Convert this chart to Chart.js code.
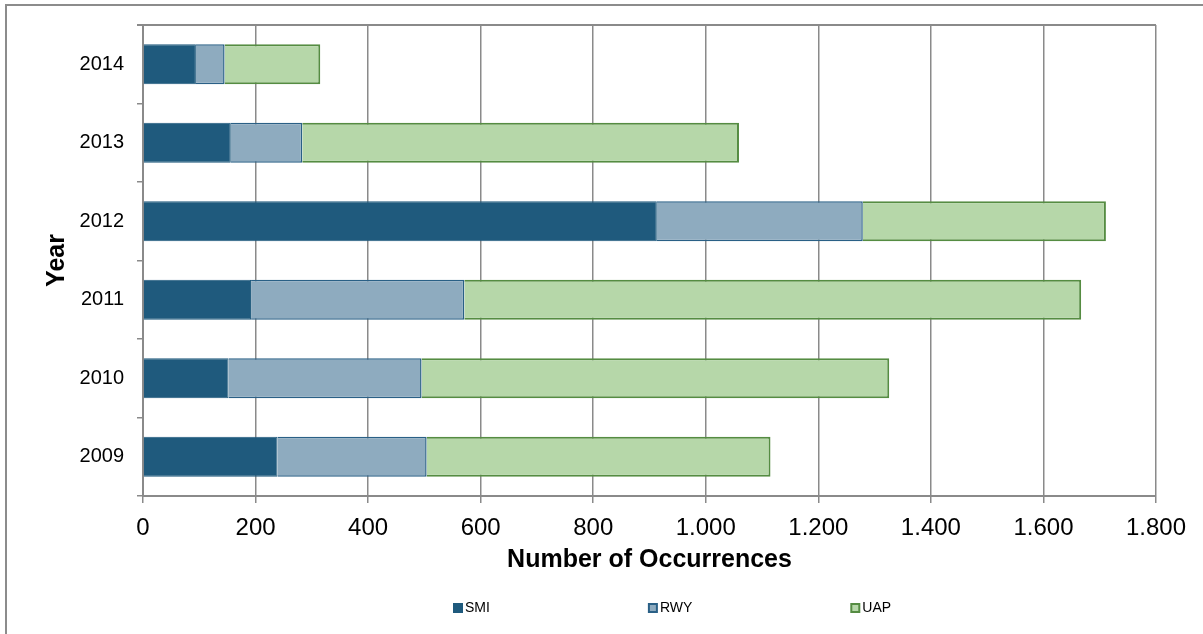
<!DOCTYPE html>
<html>
<head>
<meta charset="utf-8">
<script src="https://cdn.jsdelivr.net/npm/chart.js@4/dist/chart.umd.min.js"></script>
<style>
  html, body { margin: 0; padding: 0; background: #fff; overflow: hidden; }
  #wrap { position: absolute; left: 0; top: 0; width: 1203px; height: 634px; }
</style>
</head>
<body>
<div id="wrap"><canvas id="occChart" width="1203" height="634"></canvas></div>
<script>
// occurrences per year, top row first
const years = ["2014", "2013", "2012", "2011", "2010", "2009"];
const smi = [94, 156, 913, 192, 152, 239];
const rwy = [51, 127, 366, 379, 343, 265];
const uap = [170, 776, 432, 1096, 831, 611];
const xTicks = [0, 200, 400, 600, 800, 1000, 1200, 1400, 1600, 1800];

const FONT = "'Liberation Sans', Arial, sans-serif";
const GRID = "#8a8a8a";

// 1000 -> 1.000
function thousands(v) {
    return String(v).replace(/\B(?=(\d{3})+(?!\d))/g, ".");
}

// white background + outer frame
const framePlugin = {
    id: "frame",
    beforeDraw(chart) {
        const ctx = chart.ctx;
        ctx.save();
        ctx.fillStyle = "#fff";
        ctx.fillRect(0, 0, chart.width, chart.height);
        ctx.strokeStyle = "#8c8c8c";
        ctx.lineWidth = 2;
        ctx.strokeRect(6, 5, chart.width + 20, chart.height + 20);
        ctx.restore();
    },
    afterDraw(chart) {
        // top edge of the plot area
        const ctx = chart.ctx;
        const a = chart.chartArea;
        ctx.save();
        ctx.strokeStyle = GRID;
        ctx.lineWidth = 2;
        ctx.beginPath();
        ctx.moveTo(a.left - 6, a.top);
        ctx.lineTo(a.right, a.top);
        ctx.stroke();
        ctx.restore();
    }
};

// legend row under the axis title
const legendPlugin = {
    id: "spreadLegend",
    afterDraw(chart) {
        const ctx = chart.ctx;
        ctx.save();
        ctx.font = "14px " + FONT;
        ctx.textBaseline = "middle";
        ctx.textAlign = "left";
        let x = 453;
        const y = 603;
        chart.data.datasets.forEach(ds => {
            ctx.fillStyle = ds.borderColor;
            ctx.fillRect(x, y, 10, 10);
            ctx.fillStyle = ds.backgroundColor;
            ctx.fillRect(x + 2, y + 2, 6, 6);
            ctx.fillStyle = "#000";
            ctx.fillText(ds.label, x + 12, y + 5.5);
            x += 12 + ctx.measureText(ds.label).width + 158;
        });
        ctx.restore();
    }
};

new Chart(document.getElementById("occChart"), {
    type: "bar",
    data: {
        labels: years,
        datasets: [
            {
                label: "SMI",
                data: smi,
                backgroundColor: "#1f5a7d",
                borderColor: "#1f5a7d",
                borderWidth: 1
            },
            {
                label: "RWY",
                data: rwy,
                backgroundColor: "#8eabbf",
                borderColor: "#2a6086",
                borderWidth: 1.5
            },
            {
                label: "UAP",
                data: uap,
                backgroundColor: "#b6d7a9",
                borderColor: "#558c42",
                borderWidth: 2
            }
        ]
    },
    options: {
        indexAxis: "y",
        responsive: false,
        animation: false,
        layout: { padding: { left: 0, top: 24, right: 47, bottom: 0 } },
        datasets: {
            bar: { categoryPercentage: 1, barPercentage: 0.51 }
        },
        plugins: {
            legend: { display: false },
            tooltip: { enabled: false }
        },
        scales: {
            x: {
                stacked: true,
                min: 0,
                max: 1800,
                afterBuildTicks(scale) {
                    scale.ticks = xTicks.map(v => ({ value: v }));
                },
                afterFit(scale) { scale.height = 138; },
                grid: {
                    color: GRID,
                    lineWidth: 1.5,
                    tickLength: 7
                },
                border: { color: GRID, width: 2 },
                ticks: {
                    color: "#000",
                    padding: 11,
                    font: { family: FONT, size: 24 },
                    callback: v => thousands(v)
                },
                title: {
                    display: true,
                    text: "Number of Occurrences",
                    color: "#000",
                    font: { family: FONT, size: 25, weight: "bold" },
                    padding: { top: 0, bottom: 59 }
                }
            },
            y: {
                stacked: true,
                afterFit(scale) { scale.width = 143; },
                grid: {
                    drawOnChartArea: false,
                    color: GRID,
                    lineWidth: 1.5,
                    tickLength: 6
                },
                border: { color: GRID, width: 2 },
                ticks: {
                    color: "#000",
                    padding: 13,
                    font: { family: FONT, size: 20 }
                },
                title: {
                    display: true,
                    text: "Year",
                    color: "#000",
                    font: { family: FONT, size: 25, weight: "bold" },
                    padding: { top: 42, bottom: 0 }
                }
            }
        }
    },
    plugins: [framePlugin, legendPlugin]
});
</script>
</body>
</html>
